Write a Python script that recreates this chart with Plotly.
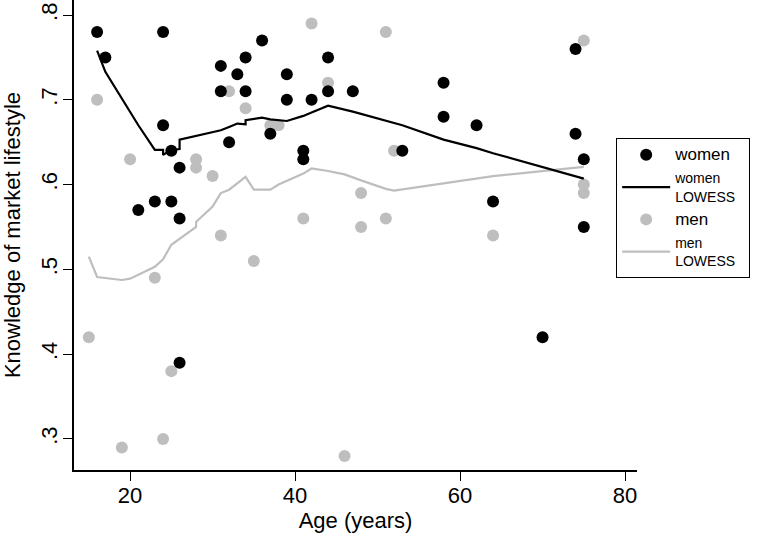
import plotly.graph_objects as go

# ---- data ----
women_age = [16, 24, 17, 31, 34, 33, 31, 34, 36, 24, 32, 25, 26, 21, 23, 25, 26, 26,
             44, 39, 44, 47, 39, 42, 37, 41, 41, 53, 58, 58, 62, 74, 74, 75, 64, 75, 70]
women_know = [0.78, 0.78, 0.75, 0.74, 0.75, 0.73, 0.71, 0.71, 0.77, 0.67, 0.65, 0.64, 0.62, 0.57, 0.58, 0.58, 0.56, 0.39,
              0.75, 0.73, 0.71, 0.71, 0.70, 0.70, 0.66, 0.64, 0.63, 0.64, 0.72, 0.68, 0.67, 0.76, 0.66, 0.63, 0.58, 0.55, 0.42]

men_age = [16, 32, 34, 20, 28, 28, 30, 31, 42, 51, 44, 37, 38, 52, 48, 41, 48, 51,
           75, 75, 75, 64, 23, 35, 15, 25, 24, 19, 46]
men_know = [0.70, 0.71, 0.69, 0.63, 0.63, 0.62, 0.61, 0.54, 0.79, 0.78, 0.72, 0.67, 0.67, 0.64, 0.59, 0.56, 0.55, 0.56,
            0.77, 0.60, 0.59, 0.54, 0.49, 0.51, 0.42, 0.38, 0.30, 0.29, 0.28]

women_lowess_age = [16, 17, 21, 23, 24, 24, 25, 26, 26, 31, 32, 33, 34, 34, 36, 37, 39, 41, 42, 44,
                    47, 53, 58, 62, 64, 70, 74, 75]
women_lowess_val = [0.758, 0.733, 0.670, 0.641, 0.641, 0.635, 0.641, 0.642, 0.653, 0.664, 0.668, 0.672,
                    0.671, 0.676, 0.679, 0.677, 0.675, 0.681, 0.685, 0.693, 0.686, 0.670, 0.653, 0.643,
                    0.637, 0.621, 0.610, 0.607]

men_lowess_age = [15, 16, 19, 20, 23, 24, 25, 28, 28, 30, 31, 32, 34, 35, 37, 38, 41, 42, 44, 46,
                  48, 51, 52, 64, 75]
men_lowess_val = [0.515, 0.491, 0.4875, 0.489, 0.503, 0.512, 0.529, 0.550, 0.556, 0.574, 0.590, 0.594,
                  0.609, 0.594, 0.594, 0.600, 0.613, 0.619, 0.616, 0.612, 0.605, 0.595, 0.593, 0.610, 0.621]

x_ticks = [20, 40, 60, 80]
y_ticks = [0.3, 0.4, 0.5, 0.6, 0.7, 0.8]
y_ticktext = [".3", ".4", ".5", ".6", ".7", ".8"]

GRAY = "#bebebe"
FONT = "Liberation Sans, Arial, Helvetica, sans-serif"
PAD = "\u00a0\u00a0"

fig = go.Figure()
fig.add_trace(go.Scatter(x=men_age, y=men_know, mode="markers",
                         name="<span style='font-size:17px'>men</span>", legendgroup="c",
                         marker=dict(color=GRAY, size=12), legendrank=3))
fig.add_trace(go.Scatter(x=men_lowess_age, y=men_lowess_val, mode="lines",
                         name="men<br>LOWESS" + PAD, legendgroup="d",
                         line=dict(color=GRAY, width=2.2), legendrank=4))
fig.add_trace(go.Scatter(x=women_age, y=women_know, mode="markers",
                         name="<span style='font-size:17px'>women</span>", legendgroup="a",
                         marker=dict(color="black", size=12), legendrank=1))
fig.add_trace(go.Scatter(x=women_lowess_age, y=women_lowess_val, mode="lines",
                         name="women<br>LOWESS" + PAD, legendgroup="b",
                         line=dict(color="black", width=2.2), legendrank=2))

fig.update_layout(
    width=760, height=535,
    margin=dict(l=74, r=123, t=0, b=65),
    paper_bgcolor="white", plot_bgcolor="white",
    font=dict(family=FONT, color="black", size=22),
    showlegend=True,
    legend=dict(x=0.963, y=0.706, xanchor="left", yanchor="top",
                bordercolor="black", borderwidth=1, bgcolor="white",
                font=dict(size=14, family=FONT), itemwidth=48,
                tracegroupgap=2),
    xaxis=dict(range=[13.2, 81.45], tickvals=x_ticks, showline=True, linecolor="black",
               linewidth=1.5, ticks="outside", ticklen=9, tickwidth=1.3, tickcolor="black",
               showgrid=False, zeroline=False, automargin=False, ticklabelstandoff=-4,
               title=dict(text="Age (years)", font=dict(size=22), standoff=2),
               tickfont=dict(size=22)),
    yaxis=dict(range=[0.2634, 0.8177], tickvals=y_ticks, ticktext=y_ticktext, tickangle=-90,
               showline=True, linecolor="black", linewidth=1.5, ticks="outside", ticklen=9,
               tickwidth=1.3, tickcolor="black", showgrid=False, zeroline=False, automargin=False,
               ticklabelstandoff=-3,
               title=dict(text="Knowledge of market lifestyle", font=dict(size=22), standoff=14),
               tickfont=dict(size=22)),
)

fig.write_html("out.html", config={"displayModeBar": False},
               post_script="document.body.style.margin='0px';")
